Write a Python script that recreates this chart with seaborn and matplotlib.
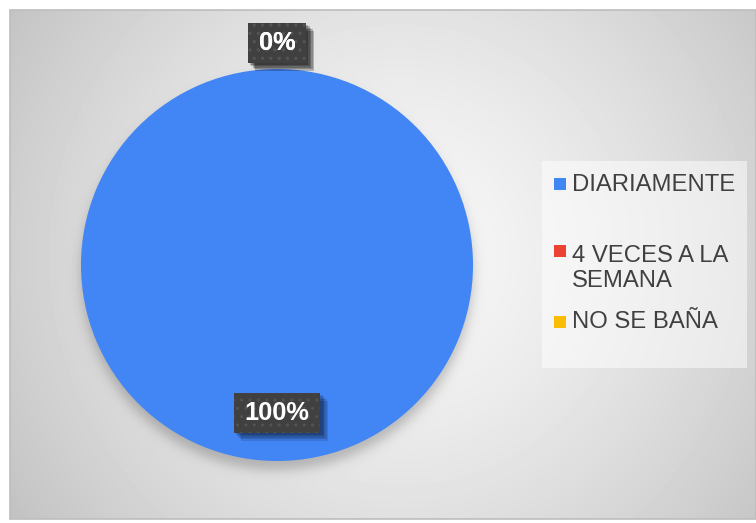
import numpy as np
import matplotlib
matplotlib.use("Agg")
import matplotlib.pyplot as plt
from matplotlib import patheffects
from matplotlib.patches import Rectangle
import seaborn as sns

# Survey answers: bathing frequency
categories = ["DIARIAMENTE", "4 VECES A LA\nSEMANA", "NO SE BAÑA"]
values = [100, 0, 0]
colors = ["#4285F4", "#EA4335", "#FBBC04"]

W, H = 756, 523
sns.set_theme(style="white")
plt.rcParams["font.family"] = ["Liberation Sans", "DejaVu Sans"]
plt.rcParams["hatch.linewidth"] = 1.0
palette = sns.color_palette(colors)

fig = plt.figure(figsize=(W / 100, H / 100), dpi=100)
fig.patch.set_facecolor("white")

# chart area and pie geometry in pixels
x0, y0, x1, y1 = 10, 10, 756, 519
cx, cy, R = 277, 265, 196

# radial grey background with a soft shadow under the pie
bg = fig.add_axes([x0 / W, 1 - y1 / H, (x1 - x0) / W, (y1 - y0) / H])
yy, xx = np.mgrid[y0:y1, x0:x1] + 0.5
d = np.hypot(xx - 400, yy - 255)
shade = 248 - 54 * (d / 470) ** 1.4
ds = np.hypot(xx - cx, yy - (cy + 9))
sh = 0.5 * (1 - np.tanh((ds - R) / 7))
shade = shade * (1 - 0.22 * sh)
img = np.clip(shade, 0, 255) / 255
bg.imshow(img, cmap="gray", vmin=0, vmax=1, extent=[x0, x1, y1, y0],
          aspect="auto", interpolation="bilinear")
bg.set_axis_off()

# pie
ax = fig.add_axes([(cx - R) / W, (H - cy - R) / H, 2 * R / W, 2 * R / H])
wedges, _ = ax.pie(values, colors=palette, startangle=90, counterclock=False,
                   wedgeprops=dict(linewidth=0))
ax.set_xlim(-1, 1)
ax.set_ylim(-1, 1)
ax.set_axis_off()

# percentage labels: white bold text on a dark dotted box with a drop shadow
total = sum(values)
labels = []
for w, v in zip(wedges, values):
    ang = np.deg2rad((w.theta1 + w.theta2) / 2)
    r = 0.755 if v > 0 else 1.133
    t = ax.text(r * np.cos(ang), r * np.sin(ang), f"{v / total * 100:.0f}%",
                ha="center", va="center", fontsize=18.3, fontweight="bold",
                color="white", zorder=6, clip_on=False)
    labels.append(t)

fig.canvas.draw()
renderer = fig.canvas.get_renderer()
inv = ax.transData.inverted()
pad_x, box_h = 11, 40
soft_shadow = [patheffects.SimplePatchShadow(offset=(o, -o), alpha=0.12,
                                             shadow_rgbFace="black")
               for o in (1.5, 2.5, 3.5, 4.5, 5.5)]
for t in labels:
    bb = t.get_window_extent(renderer)
    xc, yc = (bb.x0 + bb.x1) / 2, (bb.y0 + bb.y1) / 2
    bw = bb.width + 2 * pad_x
    (ax0, ay0) = inv.transform((xc - bw / 2, yc - box_h / 2))
    (ax1, ay1) = inv.transform((xc + bw / 2, yc + box_h / 2))
    base = Rectangle((ax0, ay0), ax1 - ax0, ay1 - ay0, fc="#404040", lw=0,
                     zorder=4, clip_on=False)
    base.set_path_effects(soft_shadow + [patheffects.Normal()])
    ax.add_patch(base)
    ax.add_patch(Rectangle((ax0, ay0), ax1 - ax0, ay1 - ay0, fill=False,
                           ec="#535353", lw=0, hatch="..", zorder=5,
                           clip_on=False))

# overlay in pixel coordinates for legend and frame
ov = fig.add_axes([0, 0, 1, 1], facecolor="none")
ov.set_xlim(0, W)
ov.set_ylim(H, 0)
ov.set_axis_off()
ov.add_patch(Rectangle((x0, y0), x1 - x0, y1 - y0, fill=False,
                       ec="#bdbdbd", lw=1.2))

# legend
ov.add_patch(Rectangle((542, 161), 205, 207, fc="white", alpha=0.5, lw=0))
marker_y = [183.5, 251, 322]
base_y = [191, 287, 328]
for lab, col, my, by in zip(categories, palette, marker_y, base_y):
    ov.add_patch(Rectangle((554, my - 6), 12, 12, fc=col, lw=0))
    ov.text(572, by, lab, ha="left", va="baseline", fontsize=17.2,
            color="#404040", linespacing=1.15)

fig.savefig("out.png", dpi=100)
